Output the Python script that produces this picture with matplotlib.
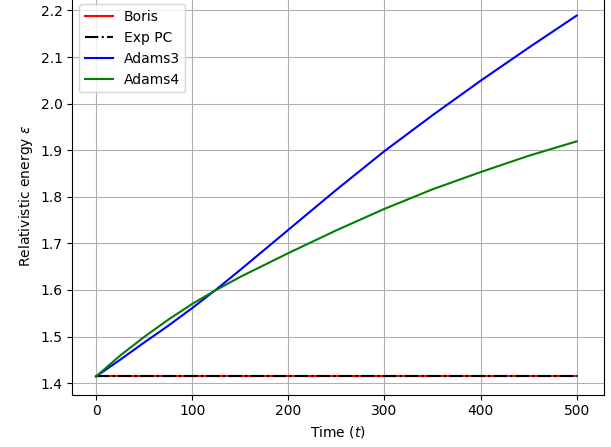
import matplotlib
matplotlib.use("Agg")
import matplotlib.pyplot as plt

# Data
t_flat = [0, 500]
boris = [1.4142, 1.4142]
exp_pc = [1.4142, 1.4142]

t = [0, 25, 50, 75, 100, 125, 150, 200, 250, 300, 350, 400, 450, 500]
adams3 = [1.4142, 1.450, 1.487, 1.523, 1.561, 1.601, 1.643, 1.729, 1.815, 1.898, 1.975, 2.049, 2.120, 2.189]
adams4 = [1.4142, 1.459, 1.499, 1.536, 1.570, 1.600, 1.628, 1.679, 1.728, 1.774, 1.816, 1.853, 1.888, 1.919]

fig = plt.figure(figsize=(6.11, 4.47), dpi=100)
ax = fig.add_axes([0.1183, 0.1174, 0.8707, 0.8884])

ax.plot(t_flat, boris, color="r", label="Boris")
ax.plot(t_flat, exp_pc, "k-.", label="Exp PC")
ax.plot(t, adams3, color="b", label="Adams3")
ax.plot(t, adams4, color="g", label="Adams4")

ax.set_xlim(-24.7, 528.7)
ax.set_ylim(1.3755, 2.228)
ax.set_yticks([1.4, 1.5, 1.6, 1.7, 1.8, 1.9, 2.0, 2.1, 2.2])
ax.set_xticks([0, 100, 200, 300, 400, 500])
ax.grid(True)
ax.set_xlabel("Time ($t$)")
ax.set_ylabel(r"Relativistic energy $\epsilon$")
ax.legend(loc="upper left")

fig.savefig("out.png", dpi=100)
